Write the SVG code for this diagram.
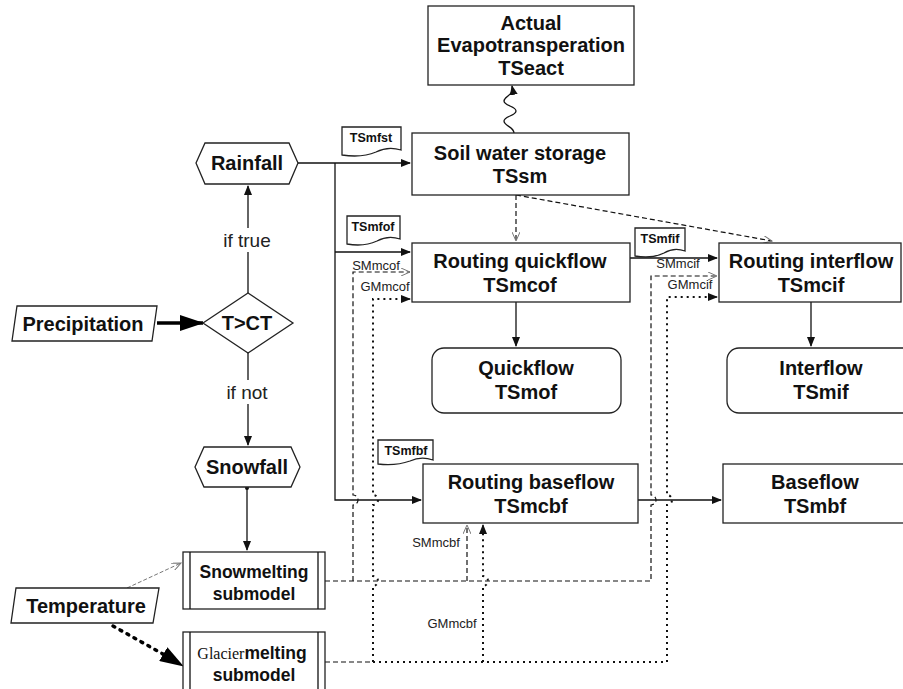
<svg xmlns="http://www.w3.org/2000/svg" width="903" height="689" viewBox="0 0 903 689">
<style>
.b{fill:#fff;stroke:#222;stroke-width:1.3}
.t{font-family:"Liberation Sans",Arial,sans-serif;font-weight:bold;font-size:20px;fill:#111;text-anchor:middle}
.m{font-family:"Liberation Sans",Arial,sans-serif;font-weight:bold;font-size:17.5px;fill:#111;text-anchor:middle}
.s{font-family:"Liberation Sans",Arial,sans-serif;font-size:13px;fill:#222;text-anchor:middle}
.d{font-family:"Liberation Sans",Arial,sans-serif;font-weight:bold;font-size:12.5px;fill:#111;text-anchor:middle}
.l{font-family:"Liberation Sans",Arial,sans-serif;font-size:19px;fill:#222;text-anchor:middle}
.c{fill:none;stroke:#111;stroke-width:1.3}
.da{fill:none;stroke:#111;stroke-width:1.2;stroke-dasharray:5,3}
.dt{fill:none;stroke:#111;stroke-width:2;stroke-dasharray:2,4}
</style>
<defs>
<marker id="a" markerWidth="10" markerHeight="8" refX="9" refY="4" orient="auto" markerUnits="userSpaceOnUse"><path d="M0,0 L10,4 L0,8 Z" fill="#111"/></marker>
<marker id="o" markerWidth="10" markerHeight="8" refX="9" refY="4" orient="auto" markerUnits="userSpaceOnUse"><path d="M0,0 L9,4 L0,8" fill="none" stroke="#777" stroke-width="1"/></marker>
<marker id="big" markerWidth="24" markerHeight="16" refX="23" refY="8" orient="auto" markerUnits="userSpaceOnUse"><path d="M0,0 L24,8 L0,16 Z" fill="#000"/></marker>
</defs>

<g id="connectors">
<path class="c" d="M298,163 H410" marker-end="url(#a)"/>
<path class="c" d="M335,163 V500 H421" marker-end="url(#a)"/>
<path class="c" d="M335,252 H410" marker-end="url(#a)"/>
<path class="c" d="M248,293 V186" marker-end="url(#a)"/>
<path class="c" d="M248,353 V445" marker-end="url(#a)"/>
<rect x="216" y="228" width="64" height="24" fill="#fff"/>
<rect x="218" y="380" width="60" height="24" fill="#fff"/>
<path d="M157,323 H203" stroke="#000" stroke-width="3.5" fill="none" marker-end="url(#big)"/>
<circle cx="247" cy="488" r="2" fill="#111"/>
<path class="c" d="M247,488 V550" marker-end="url(#a)"/>
<path d="M127,588 L181,563" fill="none" stroke="#777" stroke-width="1" stroke-dasharray="4,2" marker-end="url(#o)"/>
<path d="M113,626 L170,658" fill="none" stroke="#000" stroke-width="3.5" stroke-dasharray="2,6" stroke-linecap="round"/>
<path d="M168,657 L183,666" fill="none" stroke="none" marker-end="url(#big)"/>
<path class="da" d="M516,195 V241" marker-end="url(#o)"/>
<path class="da" d="M516,195 L772,241" marker-end="url(#o)"/>
<path class="c" d="M514,133 C514,127 504,126 504,121 C504,116 516,116 516,111 C516,106 504,106 504,101 C504,96 514,96 512,86" marker-end="url(#a)"/>
<path class="c" d="M516,302 V346" marker-end="url(#a)"/>
<path class="c" d="M811,302 V346" marker-end="url(#a)"/>
<path class="c" d="M630,258 H717" marker-end="url(#a)"/>
<path class="c" d="M638,500 H721" marker-end="url(#a)"/>
<path class="da" d="M325,581 H651 V505 A5,5 0 0 0 651,495 V276 H717" marker-end="url(#o)"/>
<path class="da" d="M353,581 V505 A5,5 0 0 0 353,495 V272 H410" marker-end="url(#o)"/>
<path class="da" d="M467,581 V525" marker-end="url(#o)"/>
<path class="da" d="M325,662 H373"/>
<path class="dt" d="M373,662 H667 V505 A5,5 0 0 0 667,495 V297 H710"/>
<path class="c" d="M708,297 H717" marker-end="url(#a)"/>
<path class="dt" d="M373,662 V586 A5,5 0 0 0 373,576 V505 A5,5 0 0 0 373,495 V299 H404"/>
<path class="c" d="M402,299 H410" marker-end="url(#a)"/>
<path class="dt" d="M483,662 V586 A5,5 0 0 0 483,576 V533"/>
<path class="c" d="M483,532 V525" marker-end="url(#a)"/>
</g>

<g id="labels">
<text class="l" x="247" y="247">if true</text>
<text class="l" x="247" y="399">if not</text>
<text class="s" x="376" y="270">SMmcof</text>
<text class="s" x="385" y="291">GMmcof</text>
<text class="s" x="678" y="268">SMmcif</text>
<text class="s" x="690" y="289">GMmcif</text>
<text class="s" x="436" y="547">SMmcbf</text>
<text class="s" x="452" y="628">GMmcbf</text>
</g>

<g id="evap">
<rect class="b" x="428" y="6" width="206" height="79"/>
<text class="t" x="531" y="30">Actual</text>
<text class="t" x="531" y="52">Evapotransperation</text>
<text class="t" x="531" y="75">TSeact</text>
</g>

<g id="soil">
<rect class="b" x="412" y="133" width="217" height="62"/>
<text class="t" x="520" y="160">Soil water storage</text>
<text class="t" x="520" y="183">TSsm</text>
</g>

<g id="tsmfst">
<path class="b" stroke-width="1" d="M342,127 H401 V150 Q388,146 376,152 Q362,158 342,155 Z"/>
<text class="d" x="371" y="142">TSmfst</text>
</g>
<g id="tsmfof">
<path class="b" stroke-width="1" d="M347,216 H400 V239 Q388,235 377,241 Q364,247 347,244 Z"/>
<text class="d" x="373" y="231">TSmfof</text>
</g>
<g id="tsmfif">
<path class="b" stroke-width="1" d="M635,228 H685 V251 Q674,247 664,253 Q652,259 635,256 Z"/>
<text class="d" x="660" y="243">TSmfif</text>
</g>
<g id="tsmfbf">
<path class="b" stroke-width="1" d="M378,440 H433 V460 Q421,456 410,461 Q396,466 378,464 Z"/>
<text class="d" x="406" y="455">TSmfbf</text>
</g>

<g id="rainfall">
<path class="b" d="M196,163 L205,143 H289 L298,163 L289,184 H205 Z"/>
<text class="t" x="247" y="170">Rainfall</text>
</g>

<g id="precipitation">
<path class="b" d="M17,306 H157 L152,341 H12 Z"/>
<text class="t" x="83" y="331">Precipitation</text>
</g>

<g id="tct">
<path class="b" d="M203,323 L248,293 L293,323 L248,353 Z"/>
<text class="t" x="247" y="330">T&gt;CT</text>
</g>

<g id="snowfall">
<path class="b" d="M195,467 L204,447 H291 L300,467 L291,487 H204 Z"/>
<text class="t" x="247" y="474">Snowfall</text>
</g>

<g id="snowmelting">
<rect class="b" x="183" y="552" width="142" height="57"/>
<path class="c" d="M190,552 V609 M318,552 V609"/>
<text class="m" x="254" y="578">Snowmelting</text>
<text class="m" x="254" y="600">submodel</text>
</g>

<g id="glacier">
<rect class="b" x="183" y="632" width="142" height="62"/>
<path class="c" d="M190,632 V694 M318,632 V694"/>
<text class="m" x="252" y="659"><tspan font-family="'Liberation Serif',serif" font-weight="normal" font-size="16px">Glacier</tspan>melting</text>
<text class="m" x="254" y="681">submodel</text>
</g>

<g id="temperature">
<path class="b" d="M16,588 H159 L153,623 H11 Z"/>
<text class="t" x="86" y="613">Temperature</text>
</g>

<g id="routing-quickflow">
<rect class="b" x="412" y="243" width="218" height="59"/>
<text class="t" x="520" y="268">Routing quickflow</text>
<text class="t" x="520" y="292">TSmcof</text>
</g>

<g id="routing-interflow">
<rect class="b" x="719" y="243" width="182" height="59"/>
<text class="t" x="811" y="268">Routing interflow</text>
<text class="t" x="811" y="292">TSmcif</text>
</g>

<g id="quickflow">
<rect class="b" x="432" y="348" width="189" height="65" rx="12"/>
<text class="t" x="526" y="375">Quickflow</text>
<text class="t" x="526" y="399">TSmof</text>
</g>

<g id="interflow">
<rect class="b" x="727" y="348" width="190" height="65" rx="12"/>
<text class="t" x="821" y="375">Interflow</text>
<text class="t" x="821" y="399">TSmif</text>
</g>

<g id="routing-baseflow">
<rect class="b" x="423" y="464" width="215" height="59"/>
<text class="t" x="531" y="489">Routing baseflow</text>
<text class="t" x="531" y="513">TSmcbf</text>
</g>

<g id="baseflow">
<rect class="b" x="723" y="464" width="190" height="59"/>
<text class="t" x="815" y="489">Baseflow</text>
<text class="t" x="815" y="513">TSmbf</text>
</g>
</svg>
